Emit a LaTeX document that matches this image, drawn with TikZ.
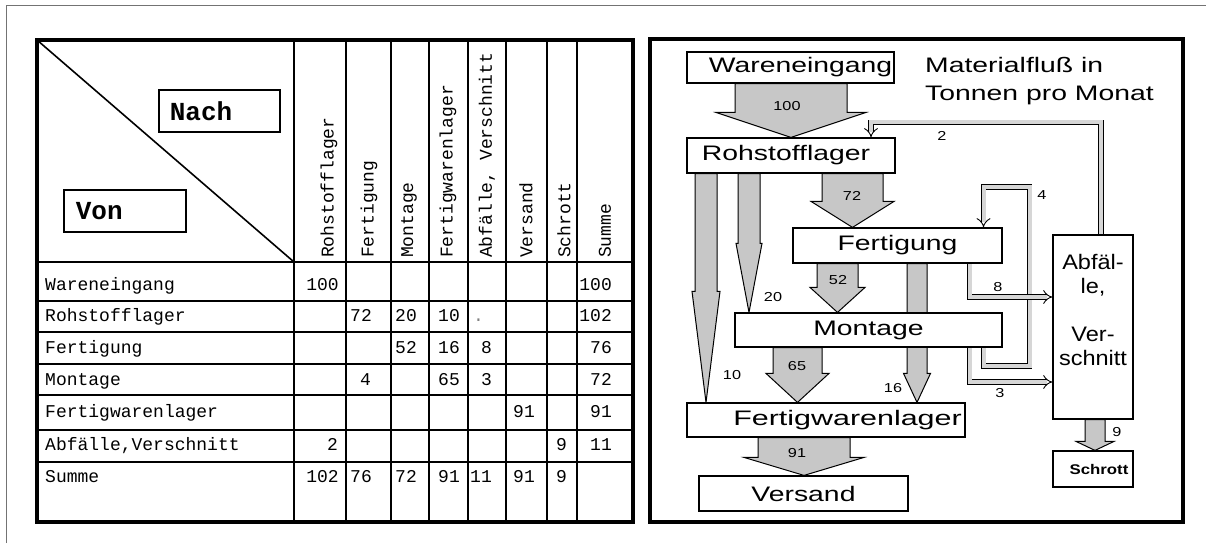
\documentclass[tikz,border=0pt]{standalone}
\usepackage{fontspec}
\usetikzlibrary{calc,arrows.meta}
\newfontfamily\sansf{Liberation Sans}
\newfontfamily\monof{Liberation Mono}
\definecolor{arrowgray}{gray}{0.78}
\definecolor{pipegray}{gray}{0.84}
\definecolor{framegray}{gray}{0.45}
\pgfdeclarelayer{background}
\pgfsetlayers{background,main}
% horizontal stretch of a text
\newcommand\sw[2]{\scalebox{#1}[1]{#2}}
% text moved sideways by half of #1 inside its box
\newcommand\shifted[2]{\makebox[0pt]{\hspace*{#1}#2}}
% block arrow from the bottom of node #1 to the top of node #2:
% #3 centre x, #4 shaft half width, #5 head half width, #6 head length
\newcommand\blockarrow[6]{%
  \draw[flow] let \p1=(#1.south), \p2=(#2.north) in
    (#3pt-#4pt,\y1) -- (#3pt-#4pt,\y2+#6pt) -- (#3pt-#5pt,\y2+#6pt) -- (#3pt,\y2)
    -- (#3pt+#5pt,\y2+#6pt) -- (#3pt+#4pt,\y2+#6pt) -- (#3pt+#4pt,\y1) -- cycle;}
\begin{document}
\begin{tikzpicture}[x=1pt,y=-1pt,
  tline/.style={line width=2pt},
  hdr/.style={rotate=90, anchor=west, inner sep=0pt, font=\monof\fontsize{18}{20}\selectfont},
  rowlbl/.style={anchor=base west, inner sep=0pt, font=\monof\fontsize{18}{20}\selectfont},
  cell/.style={anchor=base east, inner sep=0pt, font=\monof\fontsize{18}{20}\selectfont},
  keybox/.style={draw, line width=1.6pt, anchor=north west, align=left, inner ysep=0pt,
    minimum height=42pt, font=\monof\bfseries\fontsize{26}{28}\selectfont},
  box/.style={draw, line width=1.2pt, fill=white, inner sep=0pt, font=\sansf\fontsize{21}{24}\selectfont},
  boxtext/.style={inner sep=0pt, align=center, font=\sansf\fontsize{21}{24}\selectfont},
  title/.style={anchor=base west, inner sep=0pt, font=\sansf\fontsize{21}{24}\selectfont},
  lbl/.style={inner sep=0pt, font=\sansf\fontsize{13}{15}\selectfont},
  flow/.style={draw=black, line width=1pt, fill=arrowgray, line join=miter},
  pipe/.style={draw=black, double=pipegray, double distance=4pt, line width=0.9pt,
    line join=miter, -{Implies[scale=1.3]}}]
\useasboundingbox (0,0) rectangle (1206,543);
\draw[framegray, line width=1pt] (6,543) -- (6,6) -- (1206,6);

% ---------- Von-Nach table ----------
\draw[line width=3.2pt] (37,40) rectangle (633,522);
\foreach \x in {294,346,391,429,468,506,547,577} \draw[tline] (\x,40) -- (\x,522);
\foreach \y in {262,301,332,364,395,430,462} \draw[tline] (37,\y) -- (633,\y);
\draw[line width=1.6pt] (37,40) -- (294,262);
\node[keybox, text width=99pt, inner xsep=11pt] (nach) at (158,89) {Nach};
\node[keybox, text width=98pt, inner xsep=12pt] (von) at (63,189) {Von};

\node[hdr] (c1) at (329,258) {Rohstofflager};
\node[hdr] (c2) at (369,258) {Fertigung};
\node[hdr] (c3) at (409,258) {Montage};
\node[hdr] (c4) at (448,258) {Fertigwarenlager};
\node[hdr] (c5) at (487,258) {Abfälle, Verschnitt};
\node[hdr] (c6) at (526,258) {Versand};
\node[hdr] (c7) at (564,258) {Schrott};
\node[hdr] (c8) at (605,258) {Summe};

\node[rowlbl] (r1) at (45,290) {Wareneingang};
\node[rowlbl] (r2) at (45,321.5) {Rohstofflager};
\node[rowlbl] (r3) at (45,353) {Fertigung};
\node[rowlbl] (r4) at (45,385.5) {Montage};
\node[rowlbl] (r5) at (45,417.5) {Fertigwarenlager};
\node[rowlbl] (r6) at (45,450.5) {Abfälle,Verschnitt};
\node[rowlbl] (r7) at (45,482) {Summe};

\node[cell] (v11) at (339,290) {100};
\node[cell] (v18) at (612,290) {100};
\node[cell] (v22) at (372,321.5) {72};
\node[cell] (v23) at (417,321.5) {20};
\node[cell] (v24) at (460,321.5) {10};
\node[cell, text=gray] (v25) at (484,321.5) {.};
\node[cell] (v28) at (612,321.5) {102};
\node[cell] (v33) at (417,353) {52};
\node[cell] (v34) at (460,353) {16};
\node[cell] (v35) at (492,353) {8};
\node[cell] (v38) at (612,353) {76};
\node[cell] (v42) at (371,385.5) {4};
\node[cell] (v44) at (460,385.5) {65};
\node[cell] (v45) at (492,385.5) {3};
\node[cell] (v48) at (612,385.5) {72};
\node[cell] (v56) at (535,417.5) {91};
\node[cell] (v58) at (612,417.5) {91};
\node[cell] (v61) at (338,450.5) {2};
\node[cell] (v67) at (567,450.5) {9};
\node[cell] (v68) at (612,450.5) {11};
\node[cell] (v71) at (339,482) {102};
\node[cell] (v72) at (372,482) {76};
\node[cell] (v73) at (417,482) {72};
\node[cell] (v74) at (460,482) {91};
\node[cell] (v75) at (492,482) {11};
\node[cell] (v76) at (535,482) {91};
\node[cell] (v77) at (567,482) {9};

% ---------- material flow chart ----------
\draw[line width=3.2pt] (650,39) rectangle (1183,522);

\node[box, minimum width=207pt, minimum height=31pt] (ware) at (790.5,67.5)
  {\shifted{20pt}{\sw{1.35}{Wareneingang}}};
\node[box, minimum width=208pt, minimum height=35pt] (rohl) at (791,155.5)
  {\shifted{-10pt}{\sw{1.35}{Rohstofflager}}};
\node[box, minimum width=209pt, minimum height=35pt] (fert) at (897.5,245.5)
  {\sw{1.35}{Fertigung}};
\node[box, minimum width=267pt, minimum height=34pt] (mont) at (868.5,330)
  {\sw{1.35}{Montage}};
\node[box, minimum width=278pt, minimum height=34pt] (fwl) at (826,420)
  {\shifted{43pt}{\sw{1.45}{Fertigwarenlager}}};
\node[box, minimum width=209pt, minimum height=35pt] (vers) at (803.5,493.5)
  {\sw{1.35}{Versand}};
\node[box, minimum width=80pt, minimum height=184pt] (abf) at (1093,327) {};
\node[boxtext] (abftxt) at ([yshift=17pt]abf.center)
  {\sw{1.12}{Abfäl-}\\\sw{1.12}{le,}\\[24pt]\sw{1.12}{Ver-}\\\sw{1.12}{schnitt}};
\node[box, minimum width=80pt, minimum height=36pt, font=\sansf\bfseries\fontsize{14}{16}\selectfont]
  (schr) at (1093,469) {\shifted{12pt}{\sw{1.2}{Schrott}}};

\node[title] (t1) at (925,73) {\sw{1.35}{Materialfluß in}};
\node[title] (t2) at (925,100) {\sw{1.35}{Tonnen pro Monat}};

\begin{pgfonlayer}{background}
  \blockarrow{ware}{rohl}{791}{56}{75}{25}
  \blockarrow{rohl}{fert}{852.5}{30.5}{41.5}{26}
  \blockarrow{fert}{mont}{837.5}{20.5}{27.5}{25}
  \blockarrow{fert}{fwl}{917}{10}{13.5}{29}
  \blockarrow{mont}{fwl}{797.5}{24.5}{31.5}{29}
  \blockarrow{fwl}{vers}{804}{46}{60}{18}
  \blockarrow{rohl}{fwl}{706}{11}{14}{111}
  \blockarrow{rohl}{mont}{749}{11}{13}{69}
  \blockarrow{abf}{schr}{1095}{10}{19}{9}
  % returns and waste lines
  \draw[pipe] ([xshift=8pt]abf.north) -- ++(0,-112) -| ([xshift=80pt]rohl.north);
  \draw[pipe] ([xshift=115pt]mont.south) -- ++(0,18) -- ++(46,0) -- ++(0,-179)
    -| ([xshift=86pt]fert.north);
  \draw[pipe] ([xshift=72pt]fert.south) |- ([yshift=30pt]abf.west);
  \draw[pipe] ([xshift=101pt]mont.south) |- ([yshift=-55pt]abf.west);
\end{pgfonlayer}

\node[lbl] (l100) at (787,106) {\sw{1.25}{100}};
\node[lbl] (l72) at (852,196) {\sw{1.25}{72}};
\node[lbl] (l52) at (838,280) {\sw{1.25}{52}};
\node[lbl] (l65) at (797,366) {\sw{1.25}{65}};
\node[lbl] (l91) at (797,453) {\sw{1.25}{91}};
\node[lbl] (l16) at (893,388) {\sw{1.25}{16}};
\node[lbl] (l10) at (732,375) {\sw{1.25}{10}};
\node[lbl] (l20) at (773,297) {\sw{1.25}{20}};
\node[lbl] (l2) at (942,136) {\sw{1.25}{2}};
\node[lbl] (l4) at (1042,195) {\sw{1.25}{4}};
\node[lbl] (l8) at (998,287) {\sw{1.25}{8}};
\node[lbl] (l3) at (1000,393) {\sw{1.25}{3}};
\node[lbl] (l9) at (1117,432) {\sw{1.25}{9}};
\end{tikzpicture}
\end{document}
